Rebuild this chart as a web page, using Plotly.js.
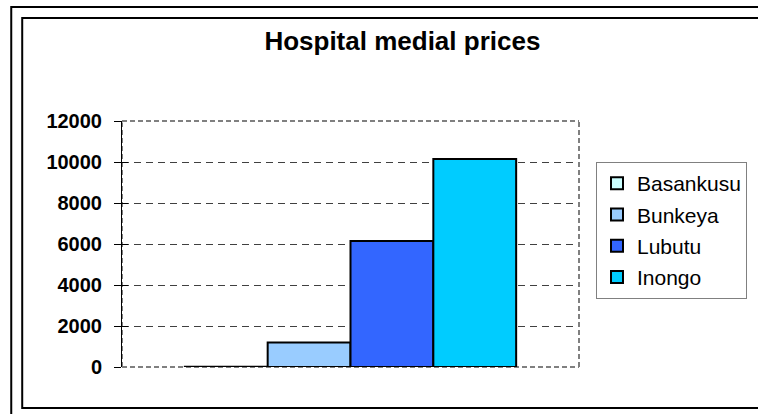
<!DOCTYPE html>
<html>
<head>
<meta charset="utf-8">
<script src="https://cdn.plot.ly/plotly-3.0.1.min.js"></script>
<style>html,body{margin:0;padding:0;background:#fff;}#chart{width:758px;height:414px;}</style>
</head>
<body>
<div id="chart"></div>
<script>
const category = ['Prices'];
const seriesNames = ['Basankusu', 'Bunkeya', 'Lubutu', 'Inongo'];
const seriesValues = [15, 1200, 6150, 10150];
const seriesColors = ['#CCFFFF', '#99CCFF', '#3366FF', '#00CCFF'];
const yTicks = [0, 2000, 4000, 6000, 8000, 10000, 12000];

const FONT = 'Liberation Sans, Arial, sans-serif';

const traces = seriesNames.map((name, i) => ({
  type: 'bar',
  name: name,
  x: category,
  y: [seriesValues[i]],
  legendgroup: 'g' + i,
  marker: {color: seriesColors[i], line: {color: '#000', width: 2}},
  hoverinfo: 'skip'
}));
traces.push({type: 'scatter', x: category, y: [0], yaxis: 'y2', mode: 'markers', marker: {opacity: 0}, showlegend: false, hoverinfo: 'skip'});

const L = 122, R = 580, T = 121, B = 367, W = 758, H = 414;
const px = v => (v - L) / (R - L);
const py = v => (B - v) / (B - T);

const layout = {
  width: W, height: H,
  margin: {l: L, r: W - R, t: T, b: H - B, pad: 0},
  paper_bgcolor: '#fff', plot_bgcolor: '#fff',
  font: {family: FONT, color: '#000'},
  title: {
    text: '<b>Hospital medial prices</b>',
    font: {family: FONT, size: 26, color: '#000'},
    x: px(403), xref: 'paper', xanchor: 'center',
    y: 1 - 41 / H, yref: 'container', yanchor: 'middle'
  },
  barmode: 'group', bargap: 0.275, bargroupgap: 0,
  showlegend: true,
  legend: {
    x: px(596), xanchor: 'left', y: py(162), yanchor: 'top',
    bordercolor: '#808080', borderwidth: 1, bgcolor: '#fff',
    font: {family: FONT, size: 21, color: '#000'},
    traceorder: 'grouped', tracegroupgap: 1, itemwidth: 30
  },
  xaxis: {type: 'category', showticklabels: false, ticks: '', showgrid: false, zeroline: false, showline: false, fixedrange: true},
  yaxis: {
    range: [0, 12000], tickvals: yTicks, ticktext: yTicks.map(String),
    tickfont: {family: FONT, size: 20, color: '#000', weight: 'bold'},
    ticks: 'outside', ticklen: 7, tickcolor: '#000', tickwidth: 1,
    ticklabelstandoff: 8,
    showline: true, linecolor: '#000', linewidth: 1,
    showgrid: true, gridcolor: '#404040', gridwidth: 1, griddash: '7px,5px',
    zeroline: false, fixedrange: true
  },
  yaxis2: {
    overlaying: 'y', anchor: 'x', side: 'left', range: [0, 12000], tickvals: yTicks,
    showticklabels: false, ticks: 'inside', ticklen: 6, tickcolor: '#000', tickwidth: 1,
    showgrid: false, zeroline: false, showline: false, fixedrange: true
  },
  shapes: [
    {type: 'line', xref: 'paper', yref: 'paper', x0: 0, x1: 1, y0: 0, y1: 0, line: {color: '#808080', width: 2, dash: '5px,3px'}, layer: 'below'},
    {type: 'line', xref: 'paper', yref: 'paper', x0: 0, x1: 0, y0: 0, y1: 1, line: {color: '#808080', width: 2, dash: '5px,3px'}, layer: 'below'},
    {type: 'line', xref: 'paper', yref: 'paper', x0: 0, x1: 1, y0: 1, y1: 1, line: {color: '#fff', width: 3}, layer: 'above'},
    {type: 'line', xref: 'paper', yref: 'paper', x0: 0, x1: 1, y0: 1, y1: 1, line: {color: '#808080', width: 2, dash: '5px,3px'}, layer: 'above'},
    {type: 'line', xref: 'paper', yref: 'paper', x0: 1, x1: 1, y0: 0, y1: 1, line: {color: '#808080', width: 2, dash: '5px,3px'}, layer: 'above'},
    {type: 'rect', xref: 'paper', yref: 'paper', x0: px(11), x1: px(775), y0: py(425), y1: py(7), line: {color: '#000', width: 2}, fillcolor: 'rgba(0,0,0,0)', layer: 'above'},
    {type: 'rect', xref: 'paper', yref: 'paper', x0: px(22), x1: px(775), y0: py(408), y1: py(18), line: {color: '#000', width: 2}, fillcolor: 'rgba(0,0,0,0)', layer: 'above'}
  ]
};

Plotly.newPlot('chart', traces, layout, {displayModeBar: false, staticPlot: true});
</script>
</body>
</html>
